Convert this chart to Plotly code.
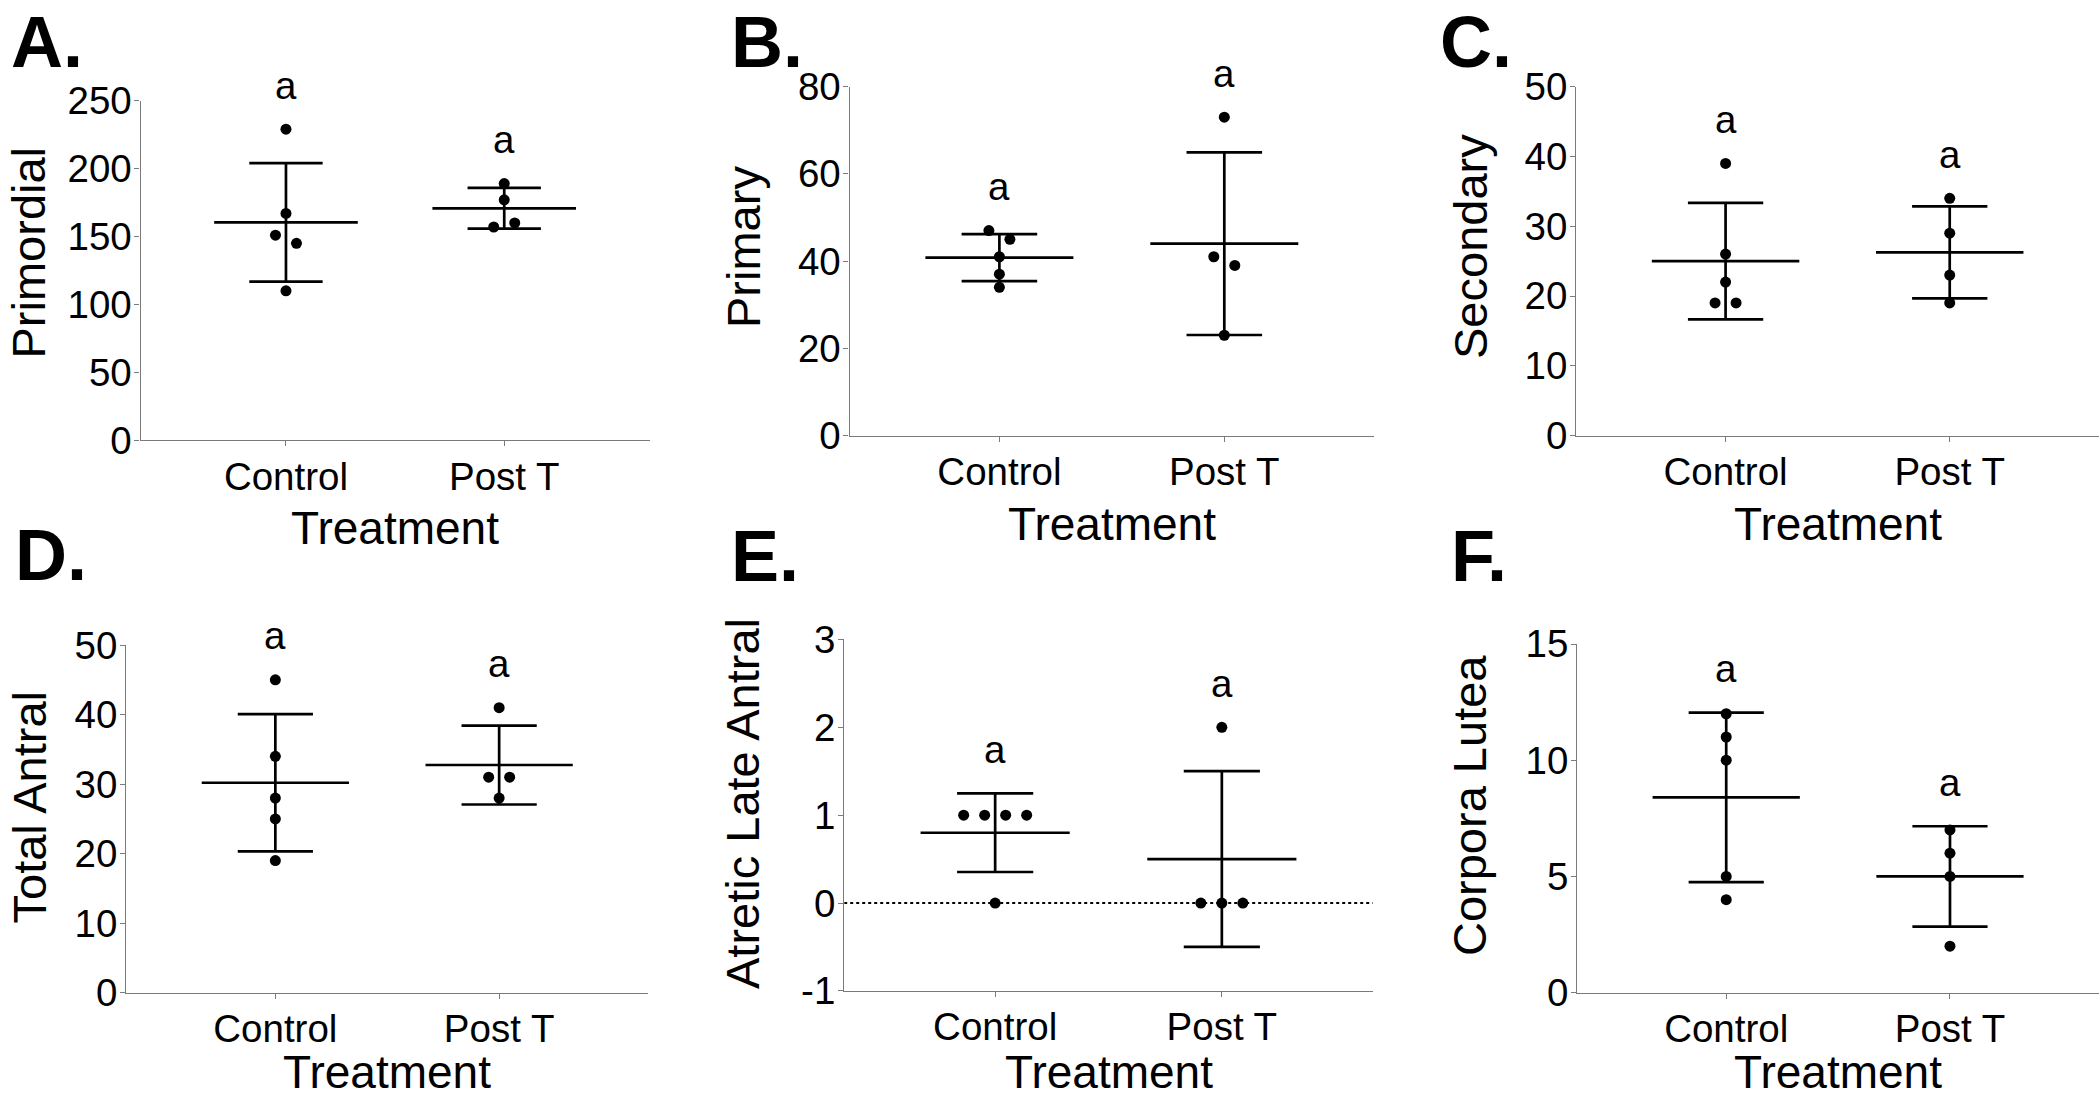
import numpy as np
import plotly.graph_objects as go

W, H = 2100, 1100

# ---------------- data ----------------
categories = ["Control", "Post T"]

primordial_control = [229, 167, 151, 145, 110]
primordial_post = [189, 177, 157, 160]

primary_control = [47, 45, 41, 37, 34]
primary_post = [73, 41, 39, 23]

secondary_control = [39, 26, 22, 19, 19]
secondary_post = [34, 29, 23, 19]

total_antral_control = [45, 34, 28, 25, 19]
total_antral_post = [41, 31, 31, 28]

atretic_control = [1, 1, 1, 1, 0]
atretic_post = [2, 0, 0, 0]

cl_control = [12, 11, 10, 5, 4]
cl_post = [7, 6, 5, 2]

y_titles = ["Primordial", "Primary", "Secondary", "Total Antral", "Atretic Late Antral", "Corpora Lutea"]
panel_letters = ["A.", "B.", "C.", "D.", "E.", "F."]
y_ranges = [(0, 250), (0, 80), (0, 50), (0, 50), (-1, 3), (0, 15)]
y_dticks = [50, 20, 10, 10, 1, 5]
sig_letters = [["a", "a"]] * 6
x_title = "Treatment"

datasets = [
    (primordial_control, primordial_post),
    (primary_control, primary_post),
    (secondary_control, secondary_post),
    (total_antral_control, total_antral_post),
    (atretic_control, atretic_post),
    (cl_control, cl_post),
]

# ---------------- layout (pixel geometry) ----------------
# (left, right, top, bottom) of each plot area in pixels
boxes = [
    (140.6, 649.6, 100.7, 440.2),
    (849.6, 1374.1, 86.6, 435.6),
    (1576.3, 2099.0, 86.6, 435.6),
    (126.3, 648.2, 645.1, 992.7),
    (844.2, 1372.8, 639.4, 990.9),
    (1577.2, 2099.0, 644.0, 992.7),
]
XR = (-0.666, 1.666)
# (x, y, yanchor) of the panel letters
letter_pos = [(9, 0, "top"), (729, 0, "top"), (1438, 0, "top"),
              (13, 555, "middle"), (729, 556, "middle"), (1449, 556, "middle")]
# (x, y, xanchor) of the y titles
ytitle_pos = [(0, 253, "left"), (743, 247, "center"), (1470, 247, "center"),
              (0, 807, "left"), (742, 804, "center"), (1469, 806, "center")]
ytitle_size = [47, 47, 47, 47, 47, 47]

FONT = "Liberation Sans, Arial, sans-serif"
TICK_SIZE = 38.5
XTITLE_SIZE = 46
MARK = 11
MEAN_HW = 0.329
CAP_HW = 0.168
JIT_PX = 21
CLUSTER_PX = 11
SIG_PX = 44
LW = 2.7
AX_COLOR = "#7a7a7a"


def px2x(px):
    return px / W


def px2y(py):
    return 1 - py / H


def jitter(vals, px_per_unit, px_per_cat):
    vals = list(vals)
    order = sorted(range(len(vals)), key=lambda k: vals[k])
    clusters, cur = [], [order[0]]
    for k in order[1:]:
        if abs(vals[k] - vals[cur[-1]]) * px_per_unit < CLUSTER_PX:
            cur.append(k)
        else:
            clusters.append(cur)
            cur = [k]
    clusters.append(cur)
    offs = [0.0] * len(vals)
    for c in clusters:
        c = sorted(c)  # data order -> left to right
        n = len(c)
        for j, k in enumerate(c):
            offs[k] = (j - (n - 1) / 2) * JIT_PX / px_per_cat
    return offs


fig = go.Figure()
annotations = []
layout_axes = {}

for p in range(6):
    left, right, top, bottom = boxes[p]
    xa = "x" if p == 0 else f"x{p + 1}"
    ya = "y" if p == 0 else f"y{p + 1}"
    xkey = "xaxis" if p == 0 else f"xaxis{p + 1}"
    ykey = "yaxis" if p == 0 else f"yaxis{p + 1}"
    y0, y1 = y_ranges[p]
    px_per_unit = (bottom - top) / (y1 - y0)
    px_per_cat = (right - left) / (XR[1] - XR[0])
    yticks = list(range(y0, y1 + 1, y_dticks[p]))

    layout_axes[xkey] = dict(
        domain=[px2x(left), px2x(right)], anchor=ya, range=list(XR),
        tickvals=[0, 1], ticktext=categories, showgrid=False, zeroline=False,
        showline=True, linecolor=AX_COLOR, linewidth=1.3, ticks="outside",
        ticklen=5, tickwidth=1.3, tickcolor=AX_COLOR,
        tickfont=dict(family=FONT, size=TICK_SIZE, color="black"),
        ticklabelstandoff=-3, automargin=False, fixedrange=True,
    )
    layout_axes[ykey] = dict(
        domain=[px2y(bottom), px2y(top)], anchor=xa, range=[y0, y1],
        tickvals=yticks, ticktext=[str(v) for v in yticks], showgrid=False,
        zeroline=False, showline=True, linecolor=AX_COLOR, linewidth=1.3,
        ticks="outside", ticklen=5, tickwidth=1.3, tickcolor=AX_COLOR,
        tickfont=dict(family=FONT, size=TICK_SIZE, color="black"),
        ticklabelstandoff=-5, automargin=False, fixedrange=True,
    )

    if y0 < 0:
        fig.add_trace(go.Scatter(
            x=list(XR), y=[0, 0], xaxis=xa, yaxis=ya, mode="lines",
            line=dict(color="black", width=2, dash="dot"), showlegend=False,
            hoverinfo="skip"))

    for i, vals in enumerate(datasets[p]):
        arr = np.array(vals, dtype=float)
        m = arr.mean()
        sd = arr.std(ddof=1)
        ex, ey = [], []
        ex += [i - MEAN_HW, i + MEAN_HW, None]
        ey += [m, m, None]
        ex += [i, i, None]
        ey += [m - sd, m + sd, None]
        ex += [i - CAP_HW, i + CAP_HW, None]
        ey += [m + sd, m + sd, None]
        ex += [i - CAP_HW, i + CAP_HW, None]
        ey += [m - sd, m - sd, None]
        fig.add_trace(go.Scatter(
            x=ex, y=ey, xaxis=xa, yaxis=ya, mode="lines",
            line=dict(color="black", width=LW), showlegend=False,
            hoverinfo="skip", cliponaxis=False))

        offs = jitter(vals, px_per_unit, px_per_cat)
        fig.add_trace(go.Scatter(
            x=[i + o for o in offs], y=vals, xaxis=xa, yaxis=ya, mode="markers",
            marker=dict(color="black", size=MARK), showlegend=False,
            cliponaxis=False))

        top_val = max(arr.max(), m + sd)
        sig_py = bottom - (top_val - y0) * px_per_unit - SIG_PX
        annotations.append(dict(
            x=i, y=px2y(sig_py), xref=xa, yref="paper",
            text=sig_letters[p][i], showarrow=False, xanchor="center",
            yanchor="middle", font=dict(family=FONT, size=TICK_SIZE, color="black")))

    # x axis title (kept inside the page)
    xt_py = min(bottom + 88, H - 0.6 * XTITLE_SIZE)
    annotations.append(dict(
        x=0.5, y=px2y(xt_py), xref=xa, yref="paper", text=x_title,
        showarrow=False, xanchor="center", yanchor="middle",
        font=dict(family=FONT, size=XTITLE_SIZE, color="black")))
    # y axis title
    tx, ty, txa = ytitle_pos[p]
    annotations.append(dict(
        x=px2x(tx), y=px2y(ty), xref="paper", yref="paper", text=y_titles[p],
        textangle=-90, showarrow=False, xanchor=txa, yanchor="middle",
        font=dict(family=FONT, size=ytitle_size[p], color="black")))
    # panel letter
    lx, ly, lya = letter_pos[p]
    annotations.append(dict(
        x=px2x(lx), y=px2y(ly), xref="paper", yref="paper",
        text=f"<b>{panel_letters[p]}</b>", showarrow=False, xanchor="left",
        yanchor=lya, font=dict(family=FONT, size=72, color="black")))

fig.update_layout(
    width=W, height=H, margin=dict(l=0, r=0, t=0, b=0, autoexpand=False),
    paper_bgcolor="white", plot_bgcolor="white", showlegend=False,
    annotations=annotations, **layout_axes)

fig.write_html("out.html", config={"displayModeBar": False},
               post_script="document.body.style.margin='0';")
